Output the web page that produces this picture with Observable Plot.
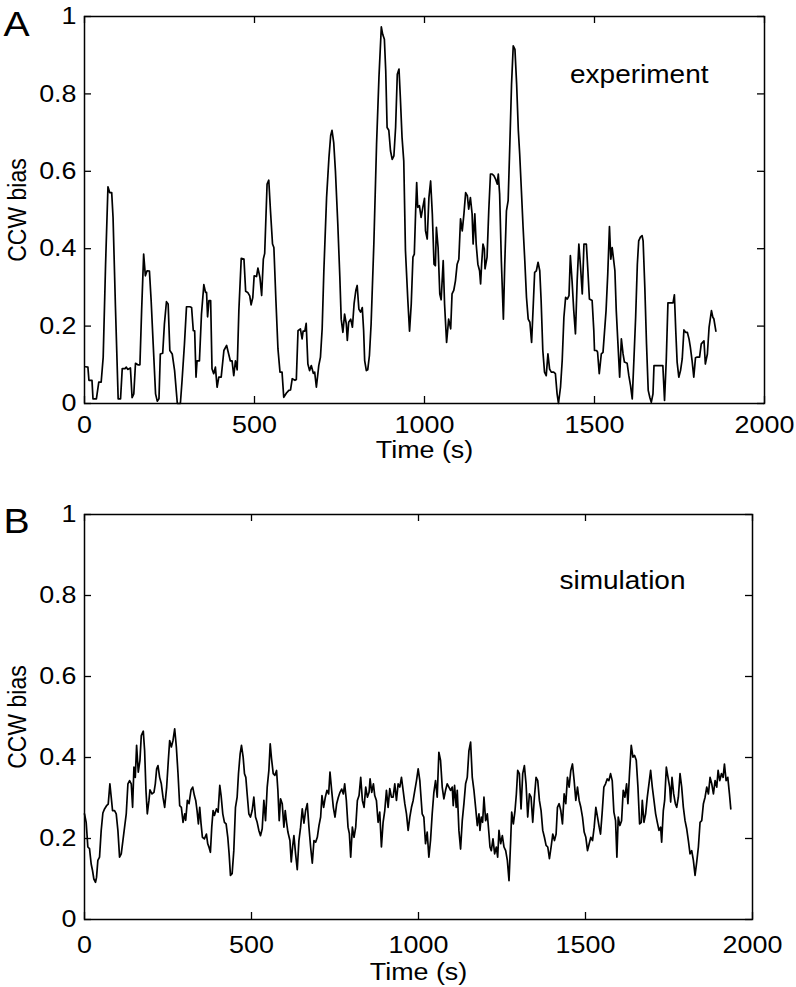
<!DOCTYPE html>
<html>
<head>
<meta charset="utf-8">
<script src="https://cdn.jsdelivr.net/npm/d3@7"></script>
<script src="https://cdn.jsdelivr.net/npm/@observablehq/plot@0.6"></script>
<style>
  html, body { margin: 0; padding: 0; background: #fff; }
  #wrap { position: relative; width: 796px; height: 987px; overflow: hidden; background: #fff; }
  .panel { position: absolute; left: 0; }
</style>
</head>
<body>
<div id="wrap">
  <div id="pa" class="panel" style="top:0px"></div>
  <div id="pb" class="panel" style="top:480px"></div>
</div>
<script>
// ---- Panel A: experiment ----
const expT = [3,10,13,22,25,35,42,49,55,62,69,74,80,84,91,99,106,111,119,123,127,135,140,145,150,157,163,168,174,179,184,191,196,202,209,214,219,223,230,235,241,246,251,258,265,273,282,287,294,300,310,315,320,324,328,331,338,344,351,356,359,362,366,371,375,380,385,390,395,402,410,418,424,429,434,439,444,449,454,461,469,474,480,486,490,495,499,506,510,516,521,526,530,537,542,547,553,557,563,569,575,581,586,594,601,606,611,619,623,628,635,640,643,648,652,657,662,667,673,677,682,689,694,699,704,712,719,724,728,733,738,745,751,755,760,765,770,773,777,783,788,793,798,802,807,812,817,821,824,829,833,838,843,851,859,866,873,877,882,886,890,895,900,905,910,915,920,925,929,934,939,944,951,956,961,966,970,974,977,980,985,990,995,1000,1003,1008,1013,1018,1023,1028,1032,1035,1040,1045,1049,1055,1059,1065,1071,1077,1081,1086,1091,1096,1101,1106,1111,1116,1121,1126,1130,1135,1140,1143,1148,1152,1157,1162,1165,1168,1172,1176,1178,1184,1189,1194,1199,1204,1209,1214,1217,1221,1226,1232,1236,1241,1246,1251,1256,1261,1266,1271,1276,1280,1285,1290,1295,1300,1305,1310,1315,1320,1324,1329,1334,1339,1343,1348,1353,1358,1363,1368,1373,1380,1385,1390,1394,1400,1405,1410,1415,1420,1425,1429,1434,1439,1444,1449,1454,1459,1464,1469,1476,1480,1485,1493,1498,1500,1506,1509,1514,1520,1525,1529,1534,1539,1544,1548,1552,1556,1560,1564,1569,1574,1579,1584,1588,1596,1601,1606,1611,1616,1621,1626,1630,1635,1640,1643,1648,1653,1658,1663,1667,1672,1675,1684,1694,1701,1706,1711,1716,1724,1731,1735,1739,1743,1748,1753,1758,1763,1768,1773,1778,1782,1787,1792,1797,1802,1809,1814,1818,1822,1826,1832,1837,1844,1848,1851,1857];
const expV = [0.095,0.094,0.06,0.06,0.012,0.012,0.055,0.055,0.12,0.36,0.56,0.545,0.545,0.48,0.25,0.012,0.012,0.09,0.09,0.094,0.088,0.092,0.015,0.025,0.104,0.1,0.1,0.24,0.386,0.33,0.343,0.342,0.266,0.154,0.025,0.006,0.012,0.128,0.13,0.205,0.263,0.257,0.137,0.128,0.085,0,0,0.06,0.154,0.25,0.25,0.248,0.188,0.188,0.068,0.11,0.11,0.23,0.307,0.287,0.287,0.224,0.266,0.266,0.09,0.077,0.094,0.042,0.068,0.068,0.137,0.15,0.128,0.11,0.11,0.072,0.11,0.087,0.24,0.375,0.373,0.29,0.287,0.278,0.255,0.274,0.33,0.328,0.35,0.326,0.279,0.373,0.388,0.567,0.577,0.498,0.412,0.403,0.266,0.141,0.081,0.081,0.016,0.027,0.034,0.035,0.064,0.06,0.062,0.188,0.193,0.167,0.187,0.187,0.207,0.102,0.085,0.098,0.078,0.081,0.042,0.098,0.12,0.193,0.343,0.532,0.636,0.692,0.706,0.674,0.601,0.464,0.326,0.218,0.184,0.231,0.206,0.163,0.21,0.218,0.197,0.259,0.292,0.305,0.244,0.236,0.248,0.188,0.111,0.085,0.087,0.124,0.206,0.412,0.67,0.842,0.973,0.954,0.941,0.859,0.713,0.706,0.653,0.631,0.64,0.713,0.851,0.864,0.79,0.687,0.627,0.395,0.266,0.187,0.257,0.378,0.386,0.498,0.571,0.507,0.511,0.481,0.507,0.53,0.446,0.425,0.532,0.575,0.49,0.36,0.356,0.455,0.403,0.283,0.268,0.369,0.257,0.158,0.218,0.193,0.283,0.292,0.317,0.36,0.373,0.477,0.446,0.49,0.545,0.537,0.502,0.532,0.49,0.412,0.49,0.412,0.36,0.343,0.309,0.36,0.412,0.399,0.348,0.378,0.498,0.593,0.593,0.589,0.58,0.567,0.593,0.541,0.369,0.218,0.36,0.498,0.524,0.67,0.825,0.924,0.915,0.825,0.705,0.644,0.55,0.455,0.369,0.274,0.218,0.21,0.158,0.257,0.339,0.343,0.365,0.343,0.266,0.137,0.081,0.072,0.128,0.089,0.081,0.081,0.077,0.025,0,0.042,0.111,0.223,0.274,0.27,0.279,0.382,0.317,0.24,0.18,0.317,0.412,0.352,0.283,0.412,0.412,0.352,0.27,0.266,0.188,0.137,0.137,0.133,0.077,0.128,0.132,0.18,0.24,0.335,0.457,0.373,0.403,0.373,0.343,0.24,0.154,0.068,0.167,0.128,0.107,0.104,0.072,0.046,0.012,0.115,0.223,0.36,0.42,0.43,0.434,0.42,0.3,0.154,0.034,0.015,0.003,0.025,0.098,0.098,0.098,0.098,0.008,0.111,0.26,0.26,0.26,0.281,0.188,0.107,0.068,0.085,0.115,0.19,0.184,0.184,0.167,0.145,0.111,0.068,0.118,0.12,0.12,0.154,0.158,0.162,0.102,0.128,0.197,0.24,0.223,0.219,0.187];

// ---- Panel B: simulation ----
const simT = [0,5,10,15,20,24,28,33,36,40,45,50,55,60,66,71,76,80,84,90,95,100,105,110,115,120,125,130,135,140,144,148,152,156,161,166,170,176,180,184,188,193,196,202,208,212,216,220,225,230,235,240,246,251,255,260,265,270,275,280,285,290,295,300,303,308,313,319,324,329,333,337,341,345,349,353,359,365,369,373,377,381,385,389,395,400,405,409,414,419,424,429,433,437,442,447,452,457,461,466,470,475,479,483,487,492,497,502,507,512,517,522,527,532,537,542,547,552,556,560,565,570,575,579,583,587,592,597,601,605,609,615,619,623,627,632,637,642,647,652,657,662,667,672,677,682,687,692,697,702,707,711,716,721,726,731,735,740,745,750,755,760,765,770,775,779,784,789,793,797,802,807,812,817,822,827,832,837,842,847,852,855,860,865,869,874,879,884,889,894,899,904,909,914,919,924,929,934,939,944,949,954,959,964,969,974,979,984,989,994,999,1004,1006,1011,1016,1021,1026,1031,1036,1041,1046,1051,1056,1061,1066,1071,1076,1081,1086,1091,1096,1101,1104,1108,1113,1116,1121,1126,1131,1136,1141,1146,1151,1156,1161,1166,1171,1176,1181,1184,1188,1192,1196,1201,1206,1211,1214,1218,1223,1228,1233,1237,1241,1246,1251,1256,1261,1266,1271,1276,1279,1284,1289,1293,1297,1302,1307,1312,1317,1322,1327,1332,1337,1342,1347,1352,1357,1362,1367,1372,1377,1382,1387,1392,1397,1402,1407,1412,1416,1421,1426,1431,1436,1441,1446,1451,1456,1461,1466,1471,1476,1481,1486,1491,1496,1501,1506,1511,1516,1521,1526,1531,1536,1541,1545,1550,1555,1560,1565,1570,1575,1580,1585,1590,1594,1598,1603,1608,1613,1618,1623,1627,1632,1637,1642,1647,1652,1657,1662,1667,1670,1675,1680,1685,1690,1695,1700,1705,1710,1715,1720,1725,1728,1733,1737,1742,1747,1752,1755,1759,1764,1769,1773,1778,1783,1788,1793,1798,1803,1808,1813,1818,1823,1828,1833,1838,1843,1848,1853,1858,1863,1868,1873,1878,1883,1888,1893,1897,1902,1907,1912,1916,1921,1926,1931,1935];
const simV = [0.261,0.24,0.179,0.175,0.137,0.121,0.1,0.092,0.104,0.146,0.154,0.22,0.263,0.273,0.281,0.285,0.335,0.302,0.269,0.269,0.261,0.22,0.154,0.162,0.195,0.228,0.261,0.335,0.343,0.335,0.277,0.376,0.351,0.43,0.364,0.393,0.454,0.465,0.417,0.319,0.261,0.294,0.32,0.31,0.314,0.335,0.372,0.38,0.351,0.335,0.302,0.277,0.327,0.393,0.442,0.426,0.442,0.471,0.426,0.36,0.281,0.277,0.24,0.261,0.245,0.294,0.286,0.32,0.327,0.306,0.294,0.269,0.236,0.277,0.236,0.203,0.199,0.211,0.187,0.178,0.166,0.228,0.269,0.257,0.273,0.265,0.331,0.306,0.261,0.24,0.236,0.203,0.162,0.109,0.113,0.17,0.277,0.302,0.36,0.409,0.43,0.401,0.36,0.351,0.31,0.261,0.253,0.269,0.302,0.253,0.24,0.22,0.207,0.224,0.294,0.244,0.327,0.368,0.434,0.397,0.36,0.356,0.368,0.319,0.244,0.298,0.286,0.228,0.269,0.24,0.216,0.195,0.142,0.179,0.207,0.162,0.123,0.195,0.228,0.273,0.238,0.269,0.286,0.228,0.179,0.139,0.195,0.191,0.203,0.232,0.253,0.306,0.277,0.302,0.319,0.31,0.364,0.319,0.277,0.253,0.286,0.302,0.314,0.322,0.31,0.335,0.294,0.228,0.212,0.154,0.228,0.203,0.228,0.294,0.306,0.351,0.294,0.277,0.327,0.302,0.314,0.347,0.314,0.335,0.306,0.294,0.24,0.265,0.179,0.24,0.269,0.319,0.277,0.323,0.302,0.302,0.335,0.294,0.335,0.327,0.351,0.319,0.286,0.261,0.22,0.253,0.277,0.294,0.319,0.343,0.372,0.343,0.319,0.261,0.253,0.187,0.216,0.154,0.195,0.261,0.314,0.343,0.302,0.413,0.393,0.327,0.298,0.319,0.335,0.327,0.319,0.327,0.281,0.331,0.277,0.319,0.22,0.174,0.244,0.286,0.335,0.351,0.417,0.438,0.351,0.319,0.277,0.232,0.261,0.22,0.253,0.24,0.302,0.244,0.261,0.211,0.179,0.17,0.199,0.162,0.179,0.154,0.22,0.187,0.207,0.179,0.17,0.146,0.096,0.195,0.265,0.236,0.269,0.31,0.368,0.36,0.273,0.36,0.38,0.335,0.253,0.31,0.302,0.24,0.302,0.351,0.343,0.294,0.269,0.22,0.203,0.183,0.179,0.15,0.179,0.211,0.195,0.211,0.277,0.286,0.269,0.236,0.31,0.286,0.351,0.327,0.368,0.384,0.343,0.294,0.327,0.294,0.277,0.253,0.216,0.203,0.17,0.187,0.203,0.195,0.228,0.277,0.253,0.228,0.211,0.265,0.327,0.335,0.347,0.343,0.36,0.343,0.265,0.244,0.154,0.253,0.232,0.244,0.319,0.302,0.335,0.286,0.364,0.43,0.401,0.405,0.393,0.327,0.236,0.24,0.294,0.24,0.261,0.302,0.335,0.368,0.327,0.294,0.261,0.24,0.22,0.228,0.191,0.269,0.294,0.376,0.351,0.327,0.29,0.351,0.31,0.286,0.277,0.302,0.36,0.327,0.277,0.244,0.224,0.195,0.162,0.17,0.146,0.109,0.142,0.179,0.24,0.244,0.286,0.302,0.327,0.31,0.351,0.335,0.31,0.343,0.327,0.368,0.343,0.36,0.351,0.384,0.343,0.351,0.31,0.273];

// ---- Axes / labels ----
const xTicks = [0, 500, 1000, 1500, 2000];
const yTicks = [0, 0.2, 0.4, 0.6, 0.8, 1];
const xLabel = "Time (s)";
const yLabel = "CCW bias";
const panelLetters = ["A", "B"];
const seriesNames = ["experiment", "simulation"];

const FONT = "'Liberation Sans', Arial, Helvetica, sans-serif";
const STRETCH = 1.12; // the reference's lettering is slightly wide

function panel({T, V, letter, name, height, mt, mb, mr, ml, padX, titleDy, nameDx, nameDy, letterDy}) {
  const W = 796;
  const pw = W - ml - mr;
  const ph = height - mt - mb;
  const tick = 7;
  return Plot.plot({
    width: W,
    height,
    marginTop: mt,
    marginBottom: mb,
    marginLeft: ml,
    marginRight: mr,
    style: {fontSize: "24px", fontFamily: FONT, color: "black", background: "white", overflow: "visible"},
    x: {domain: [0, 2000], axis: null},
    y: {domain: [0, 1], axis: null},
    marks: [
      Plot.line(V, {x: T, y: V, stroke: "black", strokeWidth: 1.7, strokeLinejoin: "round"}),
      // inward ticks on all four sides
      Plot.tickX(xTicks, {x: d => d, stroke: "black", strokeWidth: 1.3, insetTop: ph - tick}),
      Plot.tickX(xTicks, {x: d => d, stroke: "black", strokeWidth: 1.3, insetBottom: ph - tick}),
      Plot.tickY(yTicks, {y: d => d, stroke: "black", strokeWidth: 1.3, insetRight: pw - tick}),
      Plot.tickY(yTicks, {y: d => d, stroke: "black", strokeWidth: 1.3, insetLeft: pw - tick}),
      Plot.frame({stroke: "black", strokeWidth: 1.5}),
      Plot.axisX(xTicks, {tickSize: 0, tickPadding: padX, tickFormat: d => String(d), fontSize: 24, label: null}),
      Plot.axisY(yTicks, {tickSize: 0, tickPadding: 8, tickFormat: d => String(d), fontSize: 24, label: null}),
      Plot.text([xLabel], {frameAnchor: "bottom", dy: titleDy, lineAnchor: "top", fontSize: 24, text: d => d}),
      Plot.text([yLabel], {frameAnchor: "left", dx: -66, rotate: -90, textAnchor: "middle", lineAnchor: "middle", fontSize: 23, text: d => d}),
      Plot.text([letter], {frameAnchor: "top-left", dx: -68, dy: letterDy, textAnchor: "middle", lineAnchor: "middle", fontSize: 35, text: d => d}),
      Plot.text([name], {frameAnchor: "top-right", dx: nameDx, dy: nameDy, textAnchor: "end", lineAnchor: "middle", fontSize: 25, text: d => d})
    ]
  });
}

// widen each label horizontally about its own anchor point
function stretchText(svg, s) {
  svg.querySelectorAll("text").forEach(el => {
    const x = el.x.baseVal.length ? el.x.baseVal.getItem(0).value : 0;
    const y = el.y.baseVal.length ? el.y.baseVal.getItem(0).value : 0;
    let ax = x;
    const tr = el.transform.baseVal.consolidate();
    if (tr) { const m = tr.matrix; ax = m.a * x + m.c * y + m.e; }
    const g = document.createElementNS("http://www.w3.org/2000/svg", "g");
    g.setAttribute("transform", `translate(${ax},0) scale(${s},1) translate(${-ax},0)`);
    el.parentNode.insertBefore(g, el);
    g.appendChild(el);
  });
}

const A = panel({
  T: expT, V: expV, letter: panelLetters[0], name: seriesNames[0],
  height: 470, mt: 16, mb: 67, mr: 32, ml: 84, padX: 12, titleDy: 37,
  nameDx: -56, nameDy: 58, letterDy: 8
});
const B = panel({
  T: simT, V: simV, letter: panelLetters[1], name: seriesNames[1],
  height: 507, mt: 34, mb: 68, mr: 44, ml: 84, padX: 16, titleDy: 43,
  nameDx: -67, nameDy: 66, letterDy: 7
});
document.getElementById("pa").append(A);
document.getElementById("pb").append(B);
stretchText(A, STRETCH);
stretchText(B, STRETCH);
</script>
</body>
</html>
